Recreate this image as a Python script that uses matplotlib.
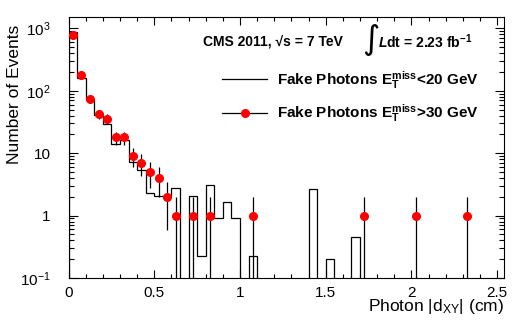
import numpy as np
import matplotlib
matplotlib.use("Agg")
import matplotlib.pyplot as plt
from matplotlib.lines import Line2D
from matplotlib.ticker import FixedLocator, FixedFormatter, LogLocator, NullFormatter, MultipleLocator, FuncFormatter

plt.rcParams['font.family'] = ['Liberation Sans', 'DejaVu Sans']
plt.rcParams['mathtext.fontset'] = 'custom'
plt.rcParams['mathtext.rm'] = 'Liberation Sans'
plt.rcParams['mathtext.it'] = 'Liberation Sans:italic:bold'
plt.rcParams['mathtext.bf'] = 'Liberation Sans:bold'
plt.rcParams['mathtext.default'] = 'regular'

# ---- data ----
bin_width = 0.05
# black histogram: Fake Photons MET<20 GeV (bins of 0.05 cm from 0)
hist_low_met = [865, 162, 71, 41, 29, 14.3, 16.2, 7.1, 5.3, 2.3,
                2.04, 2.04, 2.77, 0, 2.04, 0.225, 3.14, 0.93, 1.68, 0.93,
                0, 0.225, 0, 0, 0, 0, 0, 0, 2.7, 0,
                0.2, 0, 0, 0.454, 0, 0, 0, 0, 0, 0,
                0, 0, 0, 0, 0, 0, 0, 0, 0, 0]
# red points: Fake Photons MET>30 GeV
pts_x = [0.025, 0.075, 0.125, 0.175, 0.225, 0.275, 0.325, 0.375, 0.425, 0.475,
         0.525, 0.575, 0.625, 0.725, 0.825, 1.075, 1.725, 2.025, 2.325]
pts_y = [780, 180, 74, 42, 36, 18, 18, 9, 7, 5,
         4, 2, 1, 1, 1, 1, 1, 1, 1]

ytick_vals = [0.1, 1, 10, 100, 1000]
ytick_labels = [r'$10^{-1}$', '1', '10', r'$10^{2}$', r'$10^{3}$']

# ---- figure ----
fig = plt.figure(figsize=(5.32, 3.23), dpi=100)
ax = fig.add_axes([68.5/532, 1 - 278/323, (504 - 68.5)/532, (278 - 17)/323])

edges = np.arange(len(hist_low_met) + 1) * bin_width
ax.stairs(hist_low_met, edges, baseline=0, color='black', lw=0.9, zorder=2)

pts_y_arr = np.array(pts_y, dtype=float)
err = np.sqrt(pts_y_arr)
ax.errorbar(pts_x, pts_y_arr, yerr=err, fmt='o', color='red', ms=5.5,
            mec='red', ecolor='black', elinewidth=0.9, capsize=0, zorder=3)

ax.set_yscale('log')
ax.set_xlim(0, 2.54)
ax.set_ylim(0.1, 1525)

ax.yaxis.set_major_locator(FixedLocator(ytick_vals))
ax.yaxis.set_major_formatter(FixedFormatter(ytick_labels))
ax.yaxis.set_minor_locator(LogLocator(base=10, subs=np.arange(2, 10)))
ax.yaxis.set_minor_formatter(NullFormatter())
ax.xaxis.set_major_locator(MultipleLocator(0.5))
ax.xaxis.set_minor_locator(MultipleLocator(0.1))
ax.xaxis.set_major_formatter(FuncFormatter(lambda v, p: '%g' % round(v, 3)))

ax.tick_params(which='both', direction='in', top=True, right=True, width=0.8, colors='black')
ax.tick_params(axis='x', which='major', length=5.5, pad=5.5, labelsize=11)
ax.tick_params(axis='x', which='minor', length=2.7)
ax.tick_params(axis='y', which='major', length=6.5, pad=13, labelsize=11)
ax.tick_params(axis='y', which='minor', length=3.5)
for s in ax.spines.values():
    s.set_linewidth(0.8)

fig.text(15/532, 1 - 94/323, 'Number of Events', rotation=90, ha='center', va='center', fontsize=12.5)
fig.text(504/532, 1 - 307/323, r'Photon $|d_{XY}|$ (cm)', ha='right', va='center', fontsize=12.5)

# annotations
fig.text(203/532, 1 - 42/323, 'CMS 2011, \u221As = 7 TeV', ha='left', va='center',
         fontsize=10, fontweight='bold')
fig.text(362/532, 1 - 40/323, '\u222B', ha='left', va='center', fontsize=24,
         family=['DejaVu Sans'])
fig.text(378/532, 1 - 42/323, r'$\mathit{L}$dt = 2.23 fb$^{-1}$', ha='left', va='center',
         fontsize=10, fontweight='bold')

handles = [Line2D([], [], color='black', lw=0.9),
           Line2D([], [], color='black', lw=0.9, marker='o', ms=5.5, mfc='red', mec='red')]
labels = [r'Fake Photons $E_{T}^{miss}$<20 GeV', r'Fake Photons $E_{T}^{miss}$>30 GeV']
leg = fig.legend(handles, labels, loc='upper left', bbox_to_anchor=(222/532, 1 - 69/323),
                 frameon=False, borderpad=0, borderaxespad=0, handlelength=2.95,
                 handletextpad=0.65, labelspacing=0.75,
                 prop={'size': 11, 'weight': 'bold'})

fig.savefig('out.png', dpi=100)
